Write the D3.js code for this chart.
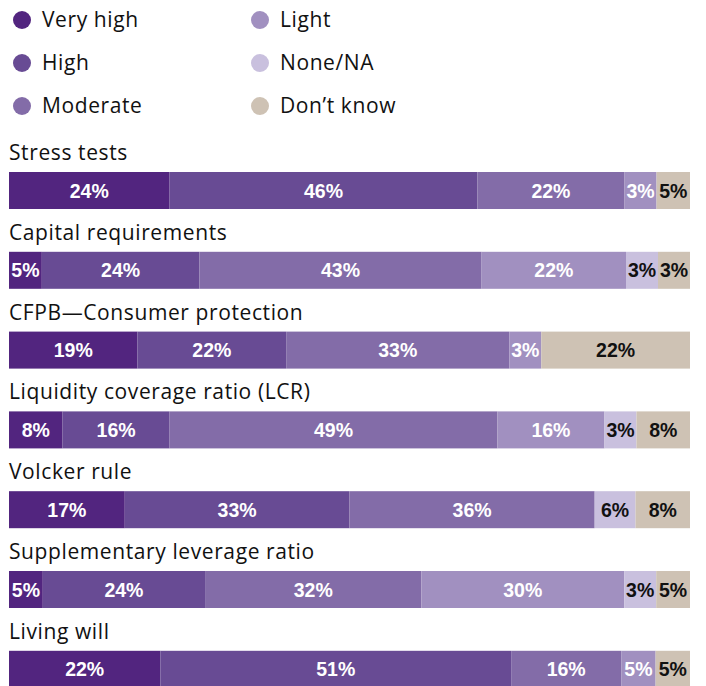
<!DOCTYPE html>
<html><head><meta charset="utf-8">
<script src="https://cdn.jsdelivr.net/npm/d3@7"></script>
<style>
html,body{margin:0;padding:0;background:#fff;}
svg{display:block;}
</style></head>
<body><svg id="chart" width="706" height="686"></svg>
<script>
const categories = ["Stress tests","Capital requirements","CFPB\u2014Consumer protection","Liquidity coverage ratio (LCR)","Volcker rule","Supplementary leverage ratio","Living will"];
const seriesNames = ["Very high","High","Moderate","Light","None/NA","Don\u2019t know"];
const veryHigh = [24,5,19,8,17,5,22];
const high     = [46,24,22,16,33,24,51];
const moderate = [22,43,33,49,36,32,16];
const light    = [3,22,3,16,0,30,5];
const noneNA   = [0,3,0,3,6,3,0];
const dontKnow = [5,3,22,8,8,5,5];
const seriesColors = ["#52257f","#684b94","#836ca8","#a190c0","#c9c0de","#cec2b4"];
const labelColors = ["#fff","#fff","#fff","#fff","#111","#111"];

const series = [veryHigh, high, moderate, light, noneNA, dontKnow];
const svg = d3.select("#chart");
const FONT = "'Open Sans', Lato, sans-serif";

// legend
const legendCols = [22, 260];
const legendRows = [20, 63, 106];
seriesNames.forEach((name, i) => {
  const cx = legendCols[Math.floor(i/3)], cy = legendRows[i%3];
  svg.append("circle").attr("cx", cx).attr("cy", cy).attr("r", 9).attr("fill", seriesColors[i]);
  svg.append("text").attr("x", cx + 20).attr("y", cy).attr("dy", "0.35em")
    .attr("font-family", FONT).attr("font-size", 21).attr("letter-spacing", 0.6)
    .attr("fill", "#111").text(name);
});

const x0 = 9, x1 = 690, barH = 37, minW = 32;
const y = d3.scaleBand().domain(categories).range([172, 172 + 79.8*7]).paddingInner(0).paddingOuter(0);

categories.forEach((cat, r) => {
  const vals = series.map(s => s[r]);
  let small = new Set();
  let k;
  for (let it = 0; it < 5; it++) {
    const rest = d3.sum(vals.filter((v, i) => v > 0 && !small.has(i)));
    k = ((x1 - x0) - small.size * minW) / rest;
    vals.forEach((v, i) => { if (v > 0 && v * k < minW) small.add(i); });
  }
  const widths = vals.map((v, i) => v === 0 ? 0 : (small.has(i) ? minW : v * k));
  const xs = d3.scaleLinear().domain([0, x1 - x0]).range([x0, x1]);
  const by = y(cat);
  svg.append("text").attr("x", 9).attr("y", by - 12)
    .attr("font-family", FONT).attr("font-size", 21).attr("letter-spacing", 0.6)
    .attr("fill", "#111").text(cat);
  let acc = 0;
  vals.forEach((v, i) => {
    if (v === 0) return;
    const xa = xs(acc), xb = xs(acc + widths[i]);
    acc += widths[i];
    svg.append("rect").attr("x", xa).attr("y", by).attr("width", xb - xa).attr("height", barH)
      .attr("fill", seriesColors[i]);
    svg.append("text").attr("x", (xa + xb)/2).attr("y", by + barH/2).attr("dy", "0.36em")
      .attr("text-anchor", "middle").attr("font-family", "'Liberation Sans', Arial, sans-serif")
      .attr("font-weight", "bold").attr("font-size", 19.5).attr("fill", labelColors[i]).text(v + "%");
  });
});
</script></body></html>
